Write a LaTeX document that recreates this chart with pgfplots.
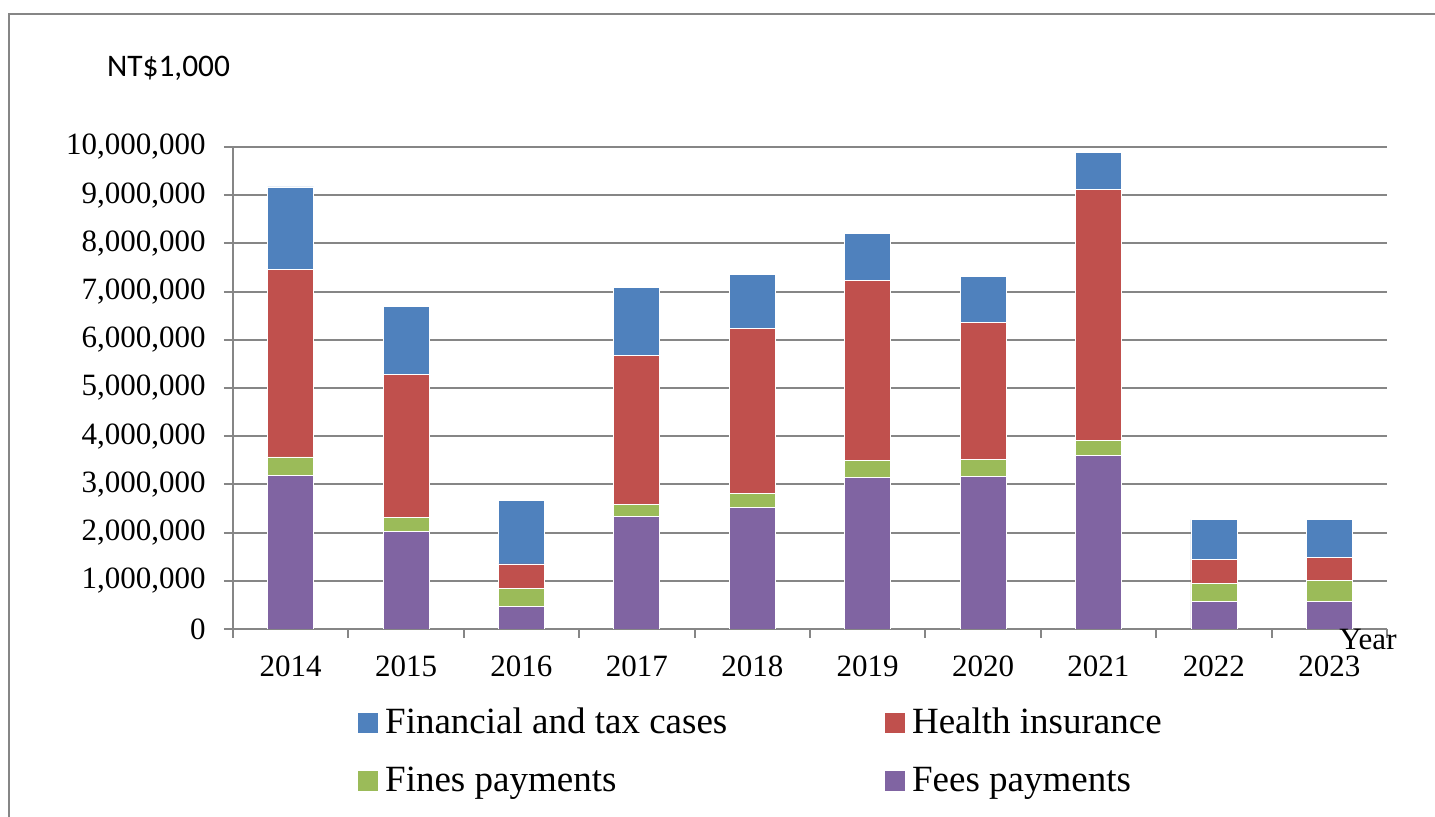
\documentclass[border=0pt]{standalone}
\usepackage{fontspec}
\setmainfont{Liberation Serif}
\newfontfamily\carlito{Carlito}
\usepackage{pgfplots}
\usepackage{pgfplotstable}
\pgfplotsset{compat=1.18}

\definecolor{finblue}{HTML}{4F81BD}
\definecolor{healthred}{HTML}{C0504D}
\definecolor{finegreen}{HTML}{9BBB59}
\definecolor{feepurple}{HTML}{8064A2}
\definecolor{gridgray}{HTML}{868686}

% values in NT$1,000
\pgfplotstableread{
x fees    fines  health  fin
0 3180000 390000 3890000 1710000
1 2020000 300000 2960000 1420000
2 460000  390000 500000  1320000
3 2330000 260000 3080000 1410000
4 2520000 300000 3410000 1120000
5 3140000 360000 3730000 970000
6 3160000 360000 2840000 950000
7 3600000 320000 5190000 770000
8 570000  380000 500000  820000
9 570000  430000 480000  800000
}\data

\begin{document}
\begin{tikzpicture}
\useasboundingbox (-116.5pt,-94pt) rectangle (601pt,314.5pt);
\draw[gridgray, line width=1pt] (-112pt,-100pt) -- (-112pt,307.5pt) -- (610pt,307.5pt);
\begin{axis}[
    at={(0pt,0pt)}, anchor=south west,
    scale only axis, width=577pt, height=241pt,
    ybar stacked, bar width=23pt,
    xmin=-0.5, xmax=9.5, ymin=0, ymax=10000000,
    axis x line*=bottom, axis y line*=left,
    axis line style={draw=gridgray, line width=1pt},
    xtick={0,1,2,3,4,5,6,7,8,9},
    xticklabels={2014,2015,2016,2017,2018,2019,2020,2021,2022,2023},
    minor xtick={-0.5,0.5,1.5,2.5,3.5,4.5,5.5,6.5,7.5,8.5,9.5},
    xtick style={draw=none},
    minor x tick style={draw=gridgray, line width=1pt},
    ytick={0,1000000,2000000,3000000,4000000,5000000,6000000,7000000,8000000,9000000,10000000},
    ytick style={draw=gridgray, line width=1pt},
    tick align=outside, major tick length=4.5pt, minor tick length=4.5pt,
    ymajorgrids, grid style={draw=gridgray, line width=1pt},
    scaled y ticks=false,
    /pgf/number format/fixed, /pgf/number format/1000 sep={,},
    /pgf/number format/assume math mode=true,
    tick label style={font=\fontsize{15.5}{18}\selectfont},
    yticklabel style={inner sep=0pt, xshift=-9pt},
    xticklabel style={inner sep=0pt, yshift=-8.5pt},
    legend columns=2, legend cell align=left,
    legend style={at={(0.1083,-0.1618)}, anchor=north west, draw=none, fill=none,
        inner sep=0pt, font=\fontsize{18.5}{22}\selectfont,
        nodes={inner sep=0pt, text height=13pt, text depth=4pt},
        /tikz/every odd column/.append style={column sep=3.5pt},
        /tikz/column 2/.style={column sep=79pt},
        /tikz/row sep=12pt},
]
\addlegendimage{legend image code/.code={\fill[finblue] (0pt,-4pt) rectangle (9.5pt,5.5pt);}}
\addlegendentry{Financial and tax cases}
\addlegendimage{legend image code/.code={\fill[healthred] (0pt,-4pt) rectangle (9.5pt,5.5pt);}}
\addlegendentry{Health insurance}
\addlegendimage{legend image code/.code={\fill[finegreen] (0pt,-4pt) rectangle (9.5pt,5.5pt);}}
\addlegendentry{Fines payments}
\addlegendimage{legend image code/.code={\fill[feepurple] (0pt,-4pt) rectangle (9.5pt,5.5pt);}}
\addlegendentry{Fees payments}

\addplot[forget plot, fill=feepurple, draw=white, line width=0.4pt] table[x=x, y=fees] {\data};
\addplot[forget plot, fill=finegreen, draw=white, line width=0.4pt] table[x=x, y=fines] {\data};
\addplot[forget plot, fill=healthred, draw=white, line width=0.4pt] table[x=x, y=health] {\data};
\addplot[forget plot, fill=finblue, draw=white, line width=0.4pt] table[x=x, y=fin] {\data};
\end{axis}
\node[anchor=base, font=\carlito\fontsize{15.7}{18}\selectfont] at (-32.25pt,276pt) {NT\$1,000};
\node[anchor=base, inner sep=0pt, font=\fontsize{15.5}{18}\selectfont] at (567.5pt,-10.5pt) {Year};
\end{tikzpicture}
\end{document}
